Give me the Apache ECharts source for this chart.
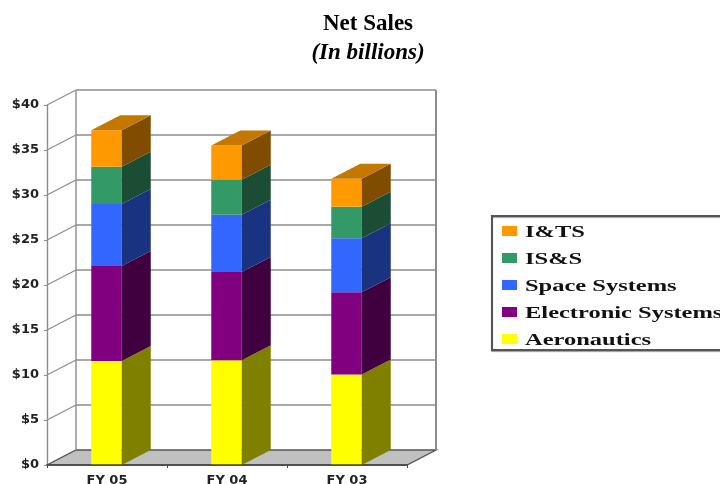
<!DOCTYPE html>
<html><head><meta charset="utf-8">
<style>html,body{margin:0;padding:0;background:#fff;overflow:hidden}#c{width:720px;height:484px;filter:blur(0.5px)}</style>
<script src="https://cdn.jsdelivr.net/npm/echarts@6/dist/echarts.min.js"></script>
</head><body><div id="c"></div>
<script>
const categories = ['FY 05','FY 04','FY 03'];
const tickValues = [0,5,10,15,20,25,30,35,40];
const aeronautics = [11.55, 11.65, 10.05];
const electronic  = [10.55, 9.8, 9.15];
const space       = [6.9, 6.35, 6.0];
const iss         = [4.15, 3.9, 3.5];
const its         = [4.05, 3.8, 3.1];

const seriesDefs = [
  {name:'Aeronautics', values:aeronautics, color:'#ffff00', side:'#808000'},
  {name:'Electronic Systems', values:electronic, color:'#800080', side:'#400040'},
  {name:'Space Systems', values:space, color:'#3366ff', side:'#1a3380'},
  {name:'IS&S', values:iss, color:'#339966', side:'#1a4d33'},
  {name:'I&TS', values:its, color:'#ff9900', side:'#804d00', top:'#c47800'}
];
const DX = 29, DY = -15;
const legendOrder = ['I&TS','IS&S','Space Systems','Electronic Systems','Aeronautics'];

const running = categories.map(()=>0);
const barSeries = seriesDefs.map((s)=>{
  const data = s.values.map((v,i)=>{const a=running[i];running[i]+=v;return [i,a,running[i]];});
  return {
    type:'custom', name:s.name, z:5, itemStyle:{color:s.color},
    encode:{x:0,y:[1,2]}, data,
    renderItem(p,api){
      const i=api.value(0), lo=api.coord([i,api.value(1)]), hi=api.coord([i,api.value(2)]);
      const w=api.size([1,0])[0]*0.254, l=lo[0]-w/2-0.5, r=l+w;
      const ch=[
        {type:'rect',shape:{x:l,y:hi[1],width:w,height:lo[1]-hi[1]},style:{fill:s.color}},
        {type:'polygon',shape:{points:[[r,lo[1]],[r+DX,lo[1]+DY],[r+DX,hi[1]+DY],[r,hi[1]]]},style:{fill:s.side}}
      ];
      if(s.top) ch.push({type:'polygon',shape:{points:[[l,hi[1]],[l+DX,hi[1]+DY],[r+DX,hi[1]+DY],[r,hi[1]]]},style:{fill:s.top}});
      return {type:'group',children:ch};
    }
  };
});

const wall = {
  type:'custom', name:'wall', silent:true, z:1, data:tickValues.map(v=>[0,v]),
  encode:{x:0,y:1}, clip:false,
  renderItem(p,api){
    const v=api.value(1), c=p.coordSys, y=api.coord([0,v])[1];
    const L=c.x, R=c.x+c.width;
    const ch=[];
    if(v===0){
      const b=c.y+c.height, t=c.y;
      ch.push({type:'polygon',shape:{points:[[L,b],[R,b],[R+DX,b+DY],[L+DX,b+DY]]},style:{fill:'#c0c0c0',stroke:'#555',lineWidth:1.4}});
      ch.push({type:'line',shape:{x1:L+DX,y1:t+DY,x2:L+DX,y2:b+DY},style:{stroke:'#999',lineWidth:1.6}});
      ch.push({type:'line',shape:{x1:R+DX,y1:t+DY,x2:R+DX,y2:b+DY},style:{stroke:'#8c8c8c',lineWidth:2}});
    } else {
      ch.push({type:'line',shape:{x1:L+DX,y1:y+DY,x2:R+DX,y2:y+DY},style:{stroke:'#8c8c8c',lineWidth:1.6}});
      ch.push({type:'line',shape:{x1:L,y1:y,x2:L+DX,y2:y+DY},style:{stroke:'#8c8c8c',lineWidth:1.2}});
    }
    return {type:'group',children:ch};
  }
};

const chart = echarts.init(document.getElementById('c'),null,{renderer:'canvas'});
chart.setOption({
  animation:false,
  backgroundColor:'#fff',
  title:[
    {text:'Net Sales',left:368,top:12.5,padding:0,textAlign:'center',textStyle:{fontFamily:'Liberation Serif',fontWeight:'bold',fontSize:23,color:'#000'}},
    {text:'(In billions)',left:368,top:41.5,padding:0,textAlign:'center',textStyle:{fontFamily:'Liberation Serif',fontWeight:'bold',fontStyle:'italic',fontSize:23,color:'#000'}}
  ],
  grid:{left:47,right:313,top:105,bottom:19,outerBoundsMode:'none'},
  xAxis:{type:'category',data:categories,z:6,
    axisLine:{lineStyle:{color:'#444',width:1.5}},
    axisTick:{show:true,length:3,lineStyle:{color:'#444'}},
    axisLabel:{margin:9,fontFamily:'DejaVu Sans',fontWeight:'bold',fontSize:13,color:'#222'}},
  yAxis:{type:'value',min:0,max:40,interval:5,z:6,
    splitLine:{show:false},
    axisLine:{show:true,lineStyle:{color:'#8c8c8c',width:1.4}},
    axisTick:{show:true,length:3,lineStyle:{color:'#8c8c8c'}},
    axisLabel:{margin:8,formatter:v=>'$'+v,fontFamily:'DejaVu Sans',fontWeight:'bold',fontSize:13,color:'#222'}},
  legend:{orient:'vertical',left:492,top:216,data:legendOrder,icon:'rect',
    formatter:()=>' ',
    backgroundColor:'#fff',borderColor:'#555',borderWidth:2,borderRadius:0,
    shadowColor:'rgba(0,0,0,0.35)',shadowBlur:1,shadowOffsetX:0,shadowOffsetY:1,
    padding:[10,300,6,10],itemWidth:15,itemHeight:10,itemGap:17,selectedMode:false,
    textStyle:{fontSize:10,lineHeight:10,color:'#111'}},
  graphic:legendOrder.map((name,i)=>({
    type:'text',x:525,y:233+27*i,scaleX:1.53,z:100,
    style:{text:name,fontFamily:'Liberation Serif',fontWeight:'bold',fontSize:16,fill:'#111',verticalAlign:'middle',align:'left'}
  })),
  series:[wall,...barSeries]
});
</script></body></html>
